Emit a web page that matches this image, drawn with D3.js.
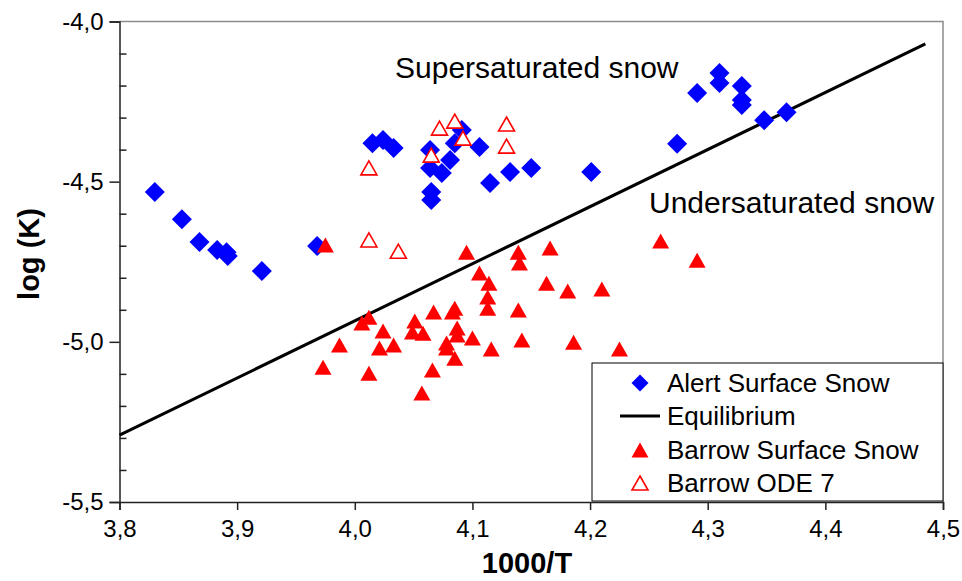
<!DOCTYPE html>
<html><head><meta charset="utf-8">
<script src="https://cdn.jsdelivr.net/npm/d3@7"></script>
<style>body{margin:0;background:#fff}svg{display:block;font-family:"Liberation Sans",Arial,sans-serif}</style>
</head><body><svg id="c" width="962" height="581"></svg>
<script>
// ---- data ----
const alertX = [3.830,3.853,3.868,3.883,3.891,3.892,3.921,3.968,4.015,4.024,4.033,4.064,4.064,4.065,4.065,4.074,4.081,4.085,4.091,4.106,4.115,4.132,4.150,4.201,4.274,4.291,4.310,4.310,4.329,4.329,4.329,4.348,4.367];
const alertY = [-4.532,-4.617,-4.688,-4.713,-4.720,-4.732,-4.779,-4.701,-4.380,-4.370,-4.395,-4.401,-4.457,-4.532,-4.557,-4.473,-4.432,-4.380,-4.339,-4.392,-4.504,-4.470,-4.457,-4.470,-4.382,-4.223,-4.161,-4.192,-4.201,-4.245,-4.261,-4.308,-4.283];
const barrowX = [3.975,4.095,4.139,4.166,4.140,4.106,4.114,4.163,4.181,4.210,4.113,4.113,4.139,4.260,4.291,4.012,4.006,4.067,4.083,4.085,4.051,4.024,4.049,4.058,4.087,4.087,4.078,4.100,4.142,4.186,3.987,4.033,4.021,4.078,4.116,4.085,3.973,4.012,4.066,4.057,4.225];
const barrowY = [-4.698,-4.720,-4.720,-4.707,-4.754,-4.785,-4.817,-4.817,-4.841,-4.835,-4.860,-4.895,-4.901,-4.685,-4.745,-4.923,-4.941,-4.907,-4.907,-4.895,-4.935,-4.966,-4.969,-4.973,-4.957,-4.979,-5.004,-4.988,-4.994,-5.001,-5.010,-5.010,-5.019,-5.019,-5.022,-5.051,-5.079,-5.098,-5.088,-5.160,-5.022];
const odeX = [4.012,4.012,4.037,4.065,4.072,4.085,4.092,4.129,4.129];
const odeY = [-4.457,-4.682,-4.717,-4.417,-4.333,-4.311,-4.364,-4.320,-4.389];
const equilibriumX = [3.8, 4.485];
const equilibriumY = [-5.291, -4.070];
const xTicks = [3.8,3.9,4.0,4.1,4.2,4.3,4.4,4.5];
const yTicks = [-4.0,-4.5,-5.0,-5.5];
const yMinorTicks = [-4.1,-4.2,-4.3,-4.4,-4.6,-4.7,-4.8,-4.9,-5.1,-5.2,-5.3,-5.4];
const legendLabels = ["Alert Surface Snow","Equilibrium","Barrow Surface Snow","Barrow ODE 7"];

// ---- chart ----
const svg = d3.select("#c");
const x = d3.scaleLinear().domain([3.8,4.5]).range([119.5,943]);
const y = d3.scaleLinear().domain([-5.5,-4.0]).range([502,21.5]);
const loc = d3.formatLocale({decimal:",",thousands:".",grouping:[3],currency:["",""],minus:"-"});
const fmt = loc.format(".1f");
const BLUE="#0000ff", RED="#ff0000";

// plot frame (top/right grey)
svg.append("path").attr("d",`M${x(3.8)},${y(-4.0)}H${x(4.5)}V${y(-5.5)}`)
  .attr("fill","none").attr("stroke","#8c8c8c").attr("stroke-width",1.5);

// axes
const gx = svg.append("g").attr("transform",`translate(0,${y(-5.5)})`)
  .call(d3.axisBottom(x).tickValues(xTicks).tickFormat(fmt).tickSize(8).tickPadding(10));
const gy = svg.append("g").attr("transform",`translate(${x(3.8)},0)`)
  .call(d3.axisLeft(y).tickValues(yTicks).tickFormat(fmt).tickSize(10).tickPadding(6));
const gym = svg.append("g").attr("transform",`translate(${x(3.8)},0)`)
  .call(d3.axisRight(y).tickValues(yMinorTicks).tickFormat("").tickSize(7).tickSizeOuter(0));
gym.select(".domain").remove();
[gx,gy,gym].forEach(g=>{
  g.selectAll(".domain,line").attr("stroke","#222").attr("stroke-width",1.5);
  g.selectAll("text").attr("font-size",24).attr("fill","#000").attr("font-family","Liberation Sans, Arial, sans-serif");
});

// shapes
const diamond = r => `M0,${-r}L${r},0L0,${r}L${-r},0Z`;
const tri = (w,h) => `M0,${-h/2}L${w/2},${h/2}L${-w/2},${h/2}Z`;

// equilibrium line
svg.append("line").attr("x1",x(equilibriumX[0])).attr("y1",y(equilibriumY[0]))
  .attr("x2",x(equilibriumX[1])).attr("y2",y(equilibriumY[1]))
  .attr("stroke","#000").attr("stroke-width",3);

svg.append("g").selectAll("path").data(d3.range(alertX.length)).join("path")
  .attr("d",diamond(10)).attr("fill",BLUE)
  .attr("transform",i=>`translate(${x(alertX[i])},${y(alertY[i])})`);
svg.append("g").selectAll("path").data(d3.range(barrowX.length)).join("path")
  .attr("d",tri(17,15)).attr("fill",RED)
  .attr("transform",i=>`translate(${x(barrowX[i])},${y(barrowY[i])})`);
svg.append("g").selectAll("path").data(d3.range(odeX.length)).join("path")
  .attr("d",tri(16,14)).attr("fill","#fff").attr("stroke",RED).attr("stroke-width",1.6)
  .attr("transform",i=>`translate(${x(odeX[i])},${y(odeY[i])})`);

// annotations
svg.append("text").attr("x",395).attr("y",78).attr("font-size",30).text("Supersaturated snow");
svg.append("text").attr("x",649).attr("y",213).attr("font-size",30).text("Undersaturated snow");

// axis titles
svg.append("text").attr("x",527).attr("y",573).attr("text-anchor","middle")
  .attr("font-size",29).attr("font-weight","bold").text("1000/T");
svg.append("text").attr("transform","translate(39,254) rotate(-90)").attr("text-anchor","middle")
  .attr("font-size",29).attr("font-weight","bold").text("log (K)");

// legend
const lg = svg.append("g");
lg.append("rect").attr("x",592).attr("y",363).attr("width",351).attr("height",138)
  .attr("fill","#fff").attr("stroke","#000").attr("stroke-width",1);
const rows = [383,416,450,483];
legendLabels.forEach((t,i)=>{
  const cy = rows[i];
  if(i===0) lg.append("path").attr("d",diamond(8.5)).attr("fill",BLUE).attr("transform",`translate(640,${cy})`);
  if(i===1) lg.append("line").attr("x1",620).attr("x2",660).attr("y1",cy).attr("y2",cy).attr("stroke","#000").attr("stroke-width",3);
  if(i===2) lg.append("path").attr("d",tri(17,15)).attr("fill",RED).attr("transform",`translate(640,${cy})`);
  if(i===3) lg.append("path").attr("d",tri(16,14)).attr("fill","#fff").attr("stroke",RED).attr("stroke-width",1.6).attr("transform",`translate(640,${cy})`);
  lg.append("text").attr("x",667).attr("y",cy+9).attr("font-size",26).text(t);
});
</script></body></html>
